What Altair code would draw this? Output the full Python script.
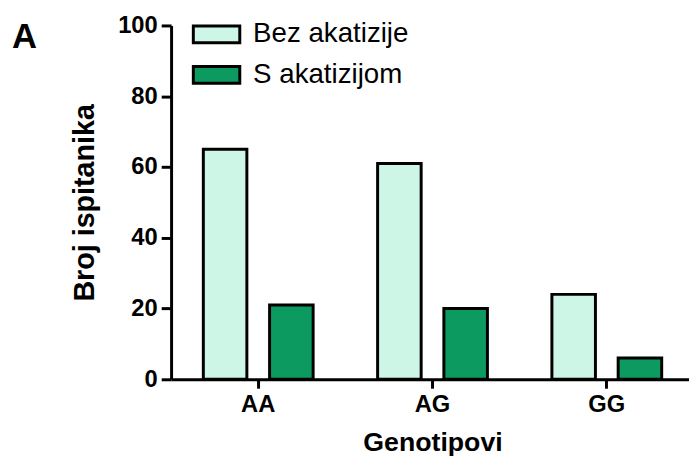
import altair as alt
import pandas as pd

genotypes = ["AA", "AG", "GG"]
groups = ["Bez akatizije", "S akatizijom"]
bez_values = [65, 61, 24]
s_values = [21, 20, 6]
colors = ["#CDF6E6", "#0D9A61"]
y_ticks = [0, 20, 40, 60, 80, 100]

rows = []
for g, b, s in zip(genotypes, bez_values, s_values):
    rows.append({"Genotip": g, "Grupa": groups[0], "Broj": b})
    rows.append({"Genotip": g, "Grupa": groups[1], "Broj": s})
df = pd.DataFrame(rows)

FONT = "Liberation Sans"

bars = alt.Chart(df).mark_bar(stroke="black", strokeWidth=3, strokeJoin="miter").encode(
    x=alt.X("Genotip:N", sort=genotypes, title="Genotipovi",
            scale=alt.Scale(range=[0, 529], paddingInner=0.37, paddingOuter=0.185),
            axis=alt.Axis(labelAngle=0, labelPadding=5, titlePadding=13, tickSize=9,
                          titleFontSize=27)),
    xOffset=alt.XOffset("Grupa:N", sort=groups,
                        scale=alt.Scale(paddingInner=0.343, paddingOuter=0)),
    y=alt.Y("Broj:Q", title="Broj ispitanika",
            scale=alt.Scale(domain=[0, 100], nice=False),
            axis=alt.Axis(values=y_ticks, labelPadding=4, titlePadding=18, tickSize=10,
                          titleFontSize=29)),
    color=alt.Color("Grupa:N", sort=groups,
                    scale=alt.Scale(domain=groups, range=colors),
                    legend=alt.Legend(title=None, orient="none", legendX=32, legendY=-5,
                                      symbolType="M-2,-0.72L2,-0.72L2,0.72L-2,0.72Z",
                                      symbolSize=552, symbolStrokeColor="black",
                                      symbolStrokeWidth=3, symbolOpacity=1,
                                      labelFont=FONT, labelFontSize=28, labelColor="black",
                                      labelOffset=23, rowPadding=11)),
)

panel = alt.Chart(pd.DataFrame({"t": ["A"]})).mark_text(
    font=FONT, fontSize=35, fontWeight="bold", align="left", baseline="alphabetic", color="black"
).encode(text="t:N", x=alt.value(-161), y=alt.value(23))

chart = alt.layer(bars, panel).properties(
    width=524, height=358,
    autosize=alt.AutoSizeParams(type="none"),
    padding={"left": 165, "top": 15, "right": 0, "bottom": 80},
).configure_view(stroke=None).configure_axis(
    domainColor="black", domainWidth=3, tickColor="black", tickWidth=3,
    labelFont=FONT, labelFontWeight="bold", labelFontSize=24, labelColor="black",
    titleFont=FONT, titleFontWeight="bold", titleColor="black",
    grid=False,
)

chart.save("out.html", embed_options={"renderer": "svg", "actions": False})
